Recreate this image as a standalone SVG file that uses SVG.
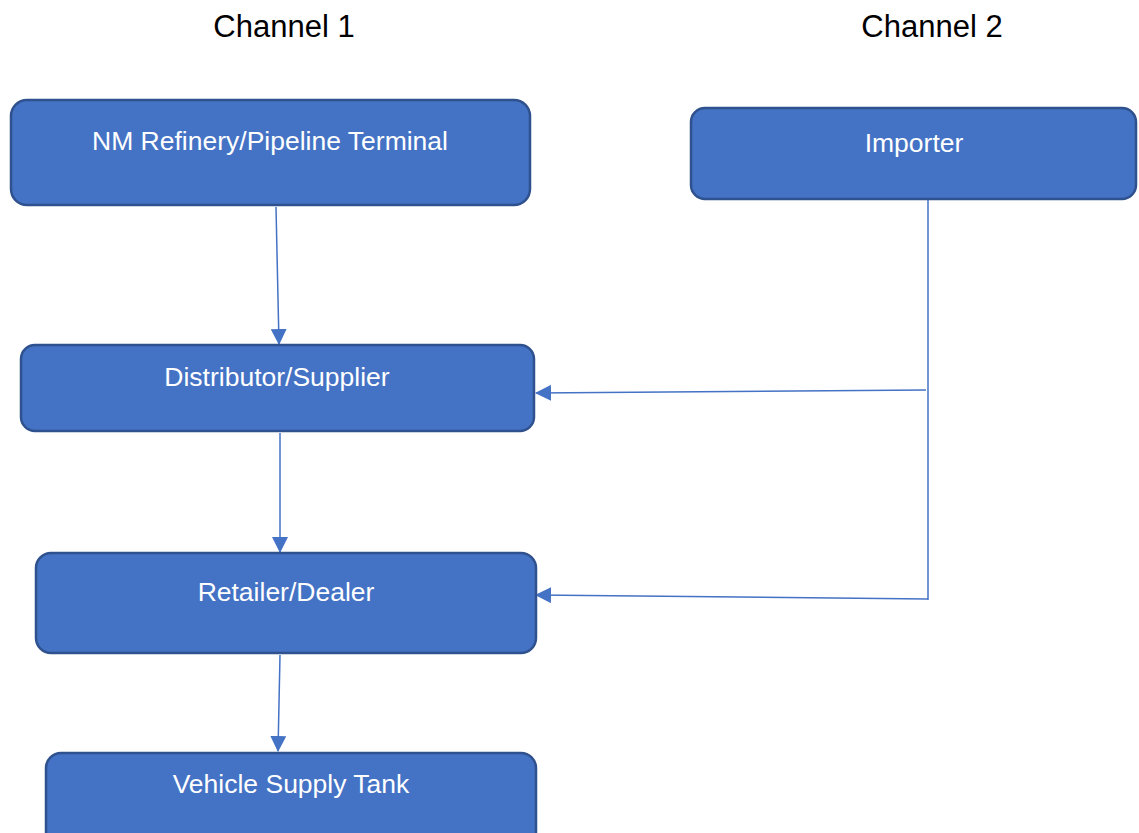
<svg xmlns="http://www.w3.org/2000/svg" width="1139" height="833" viewBox="0 0 1139 833">
<defs>
<style>
.box{fill:#4472C4;stroke:#2F528F;stroke-width:2.5}
.lbl{font-family:"Liberation Sans",Arial,sans-serif;font-size:26.5px;fill:#FFFFFF;text-anchor:middle}
.hdr{font-family:"Liberation Sans",Arial,sans-serif;font-size:31px;fill:#000000;text-anchor:middle}
.conn{stroke:#4472C4;stroke-width:1.5;fill:none}
</style>
<marker id="arr" markerWidth="10" markerHeight="10" refX="9" refY="5" orient="auto" markerUnits="userSpaceOnUse" viewBox="0 0 10 10">
<path d="M0,0 L10,5 L0,10 Z" fill="#4472C4"/>
</marker>
<marker id="arrw" markerWidth="16" markerHeight="16" refX="15" refY="8" orient="auto" markerUnits="userSpaceOnUse" viewBox="0 0 16 16">
<path d="M0,0 L16,8 L0,16 Z" fill="#4472C4"/>
</marker>
</defs>
<rect width="1139" height="833" fill="#FFFFFF"/>
<text class="hdr" x="284" y="37">Channel 1</text>
<text class="hdr" x="932" y="37">Channel 2</text>
<g id="connectors">
<line class="conn" x1="276" y1="207" x2="279" y2="344" marker-end="url(#arrw)"/>
<line class="conn" x1="280" y1="433" x2="280" y2="552" marker-end="url(#arrw)"/>
<line class="conn" x1="280" y1="655" x2="278" y2="751" marker-end="url(#arrw)"/>
<polyline class="conn" points="928,200 928,600"/>
<line class="conn" x1="926" y1="390" x2="536" y2="393" marker-end="url(#arrw)"/>
<line class="conn" x1="928" y1="599" x2="536" y2="595" marker-end="url(#arrw)"/>
</g>
<g id="n-refinery">
<rect class="box" x="11" y="100" width="519" height="105" rx="16"/>
<text class="lbl" x="270" y="150">NM Refinery/Pipeline Terminal</text>
</g>
<g id="n-importer">
<rect class="box" x="691" y="108" width="445" height="91" rx="14"/>
<text class="lbl" x="914" y="152">Importer</text>
</g>
<g id="n-distributor">
<rect class="box" x="21" y="345" width="513" height="86" rx="14"/>
<text class="lbl" x="277" y="386">Distributor/Supplier</text>
</g>
<g id="n-retailer">
<rect class="box" x="36" y="553" width="500" height="100" rx="15"/>
<text class="lbl" x="286" y="601">Retailer/Dealer</text>
</g>
<g id="n-vehicle">
<rect class="box" x="46" y="753" width="490" height="100" rx="15"/>
<text class="lbl" x="291" y="793">Vehicle Supply Tank</text>
</g>
</svg>
